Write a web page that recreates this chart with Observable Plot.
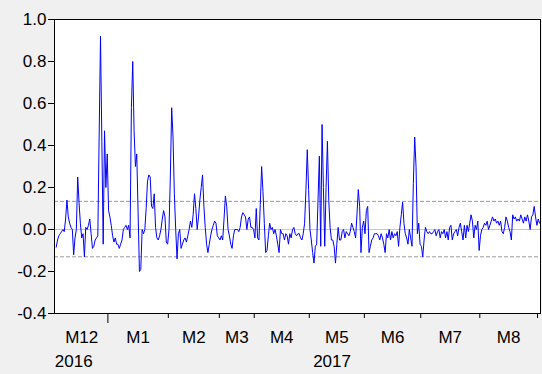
<!DOCTYPE html>
<html><head><meta charset="utf-8">
<script src="https://cdn.jsdelivr.net/npm/d3@7"></script>
<script src="https://cdn.jsdelivr.net/npm/@observablehq/plot@0.6"></script>
<style>
html,body{margin:0;padding:0;background:#f0f0f0;}
#chart svg{display:block;}
</style></head><body><div id="chart"></div>
<script>
const dec2016 = [-0.084,-0.05,-0.03,-0.02,-0.01,0.0,-0.01,0.05,0.14,0.06,0.03,0.01,0.0,-0.12,-0.04,0.0,0.25,0.13,0.03,-0.04,-0.02,-0.13,0.01,0.0,0.02,0.05,-0.02,-0.09,-0.08,-0.05,-0.04,-0.03,0.45,0.92,0.42,-0.07,0.47,0.2,0.36];
const jan2017 = [0.09,0.06,0.02,-0.03,-0.06,-0.04,-0.07,-0.07,-0.09,-0.07,-0.05,0.0,0.01,0.02,0.0,0.02,-0.04,0.58,0.8,0.47,0.3,0.36,0.08,-0.2,-0.19,0.0,-0.02,0.0,0.1,0.23,0.26,0.25,0.11,0.1,0.17,0.01,-0.04,-0.05,-0.03,0.0,0.05,0.09,0.06,-0.06,-0.07];
const feb2017 = [0.0,0.25,0.58,0.44,0.17,0.0,-0.14,-0.02,0.0,-0.09,-0.07,-0.05,-0.04,-0.06,-0.03,0.0,0.04,0.01,0.07,0.17,0.1,0.0,0.06,0.14,0.2,0.26,0.11,0.01,-0.07,-0.11,-0.07,-0.03,0.0,0.02,0.04,0.03,-0.03,-0.04];
const mar2017 = [-0.05,-0.03,-0.05,0.05,0.16,0.11,0.0,-0.03,-0.07,-0.09,-0.03,0.0,0.0,0.0,-0.01,0.01,0.06,0.08,0.07,0.06,0.0,0.05,0.06,0.01,0.01,0.0];
const apr2017 = [-0.04,0.1,-0.04,-0.05,0.12,0.3,0.18,0.03,-0.11,-0.1,-0.03,0.03,0.0,0.01,-0.02,0.0,-0.03,-0.07,-0.11,0.0,-0.02,-0.02,-0.05,-0.02,-0.03,-0.07,-0.02,-0.04,0.0,0.01,-0.02,-0.03,-0.02,-0.02,-0.04,-0.05,-0.02,0.03,0.19,0.38,0.19];
const may2017 = [0.0,-0.05,-0.11,-0.16,-0.08,-0.07,0.14,0.35,-0.08,0.5,0.2,-0.08,0.2,0.42,0.14,0.01,-0.05,-0.05,-0.08,-0.16,-0.07,0.01,-0.05,-0.05,-0.01,0.0,-0.04,-0.01,-0.02,-0.03,-0.01,0.03,0.01,-0.01,-0.04,0.07,0.19,0.11,-0.11,0.01,0.04];
const jun2017 = [-0.02,0.09,0.11,-0.11,-0.08,-0.05,-0.04,-0.02,-0.02,-0.02,-0.03,-0.05,-0.02,-0.04,-0.07,-0.11,-0.02,-0.04,0.0,-0.05,-0.01,-0.04,-0.02,-0.03,-0.01,-0.08,0.01,0.07,0.13,0.03,-0.02,-0.04,-0.07,0.0,-0.04,-0.08,0.22,0.44,0.3,-0.02,0.03,-0.07];
const jul2017 = [-0.08,-0.13,-0.05,0.01,-0.01,-0.02,-0.01,-0.02,-0.02,-0.01,0.0,-0.03,-0.01,0.0,-0.04,-0.01,-0.02,0.0,-0.04,-0.01,-0.05,0.01,0.02,-0.05,-0.02,-0.01,0.0,-0.03,0.01,0.03,-0.01,-0.05,0.02,-0.04,0.02,-0.01,0.03,0.07,0.04,-0.04,0.02,0.0,0.04,-0.1];
const aug2017 = [-0.03,0.0,0.01,0.03,0.02,0.04,0.0,0.02,0.04,0.06,0.04,0.05,0.03,0.04,0.02,0.04,-0.01,-0.02,0.01,0.06,0.04,0.01,-0.01,-0.05,0.07,0.05,0.06,0.04,0.05,0.04,0.07,0.05,0.03,0.06,0.04,0.07,0.04,0.0,0.06,0.07,0.11,0.06,0.02];
const sep2017 = [0.05,0.03];

const monthLabels = ["M12","M1","M2","M3","M4","M5","M6","M7","M8"];
const yearLabels = ["2016","2017"];
const yTicks = [-0.4,-0.2,0.0,0.2,0.4,0.6,0.8,1.0];
const bandLimits = [-0.13, 0.134];

// Build series
const months = [dec2016,jan2017,feb2017,mar2017,apr2017,may2017,jun2017,jul2017,aug2017,sep2017];
const values = months.flat();
const series = values.map((v,i)=>({i, v}));
const starts = [];
{ let acc = 0; for (const m of months) { starts.push(acc); acc += m.length; } }
const boundaries = starts.slice(1).map(s => s - 0.5);           // month separators
const labelPos = monthLabels.map((_,k) => ((k === 0 ? -0.5 : starts[k] - 0.5) + (starts[k] + months[k].length - 0.5)) / 2);
const yearSpans = [[-0.5, boundaries[0]], [boundaries[0], values.length - 0.5]];
const yearPos = yearSpans.map(([a,b]) => (a + b) / 2);

const font = "'Liberation Sans', Arial, sans-serif";

const chart = Plot.plot({
  width: 542,
  height: 374,
  marginLeft: 54,
  marginRight: 2,
  marginTop: 19,
  marginBottom: 61,
  style: {background: "transparent", fontFamily: font, fontSize: "17px", color: "black"},
  x: {domain: [-1.27, 360.7], axis: null, label: null},
  y: {domain: [-0.4, 1.0], axis: null, label: null},
  marks: [
    Plot.frame({fill: "white", stroke: "none"}),
    Plot.ruleY([0], {stroke: "#c8c8c8", strokeWidth: 1}),
    Plot.ruleY(bandLimits, {stroke: "#9a9a9a", strokeWidth: 1, strokeDasharray: "4,2"}),
    Plot.lineY(series, {x: "i", y: "v", stroke: "#0000ff", strokeWidth: 1}),
    Plot.frame({stroke: "black"}),
    Plot.axisY(yTicks, {label: null, tickSize: 6, tickPadding: 2, tickFormat: d => d.toFixed(1), fontSize: 17, stroke: "black"}),
    Plot.axisX([boundaries[0]], {label: null, tickSize: 10, tickFormat: () => "", stroke: "black"}),
    Plot.axisX(boundaries.slice(1), {label: null, tickSize: 5, tickFormat: () => "", stroke: "black"}),
    Plot.text(monthLabels, {x: (d,k) => labelPos[k], frameAnchor: "bottom", dy: 24, lineAnchor: "middle", fontSize: 17, fill: "black"}),
    Plot.text([yearLabels[0]], {x: () => yearPos[0], frameAnchor: "bottom", dy: 48, dx: -8, lineAnchor: "middle", fontSize: 17, fill: "black"}),
    Plot.text([yearLabels[1]], {x: () => yearPos[1], frameAnchor: "bottom", dy: 48, dx: 8, lineAnchor: "middle", fontSize: 17, fill: "black"})
  ]
});
document.getElementById("chart").appendChild(chart);
</script>
</body></html>
